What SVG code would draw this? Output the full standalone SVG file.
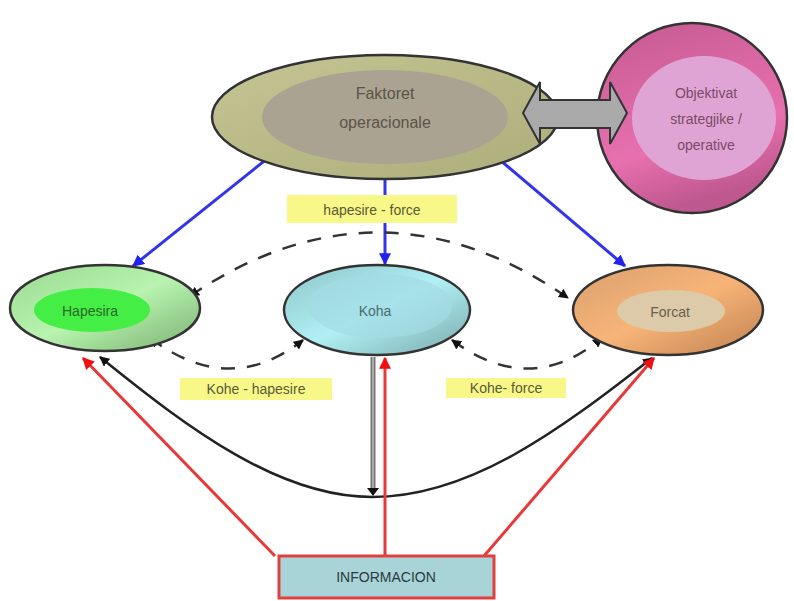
<svg xmlns="http://www.w3.org/2000/svg" width="794" height="601" viewBox="0 0 794 601">
<style>
text{font-family:"Liberation Sans",Arial,sans-serif;text-anchor:middle;dominant-baseline:central}
.node{stroke:#333;stroke-width:2.5}
.lbl{fill:#f8f888}
.lt{font-size:14px;fill:#5a5a3a}
.blue{stroke:#3333ee;stroke-width:3;fill:none;marker-end:url(#ab)}
.red{stroke:#e83838;stroke-width:3;fill:none;marker-end:url(#ar)}
.dash{stroke:#333;stroke-width:2.5;fill:none;stroke-dasharray:14 12;marker-start:url(#kS);marker-end:url(#kE)}
</style>
<defs>
<marker id="ab" viewBox="0 0 10 10" refX="9" refY="5" markerWidth="4" markerHeight="4" orient="auto"><path d="M0 0L10 5L0 10z" fill="#2222ee"/></marker>
<marker id="ar" viewBox="0 0 10 10" refX="9" refY="5" markerWidth="4" markerHeight="4" orient="auto"><path d="M0 0L10 5L0 10z" fill="#ee1111"/></marker>
<marker id="kE" viewBox="0 0 10 10" refX="9" refY="5" markerWidth="4" markerHeight="4" orient="auto"><path d="M0 0L10 5L0 10z" fill="#111"/></marker>
<marker id="kS" viewBox="0 0 10 10" refX="1" refY="5" markerWidth="4" markerHeight="4" orient="auto"><path d="M10 0L0 5L10 10z" fill="#111"/></marker>
<linearGradient id="gOl" x1="0" y1="0" x2="1" y2="1"><stop offset="0" stop-color="#c4c494"/><stop offset="1" stop-color="#aeae7c"/></linearGradient>
<linearGradient id="gPk" x1="0" y1="0" x2="0.3" y2="1"><stop offset="0" stop-color="#c45a90"/><stop offset="0.7" stop-color="#e870b0"/><stop offset="1" stop-color="#c05890"/></linearGradient>
<linearGradient id="gGr" x1="0" y1="0" x2="1" y2="1"><stop offset="0" stop-color="#9ad890"/><stop offset="0.5" stop-color="#b8f4b0"/><stop offset="1" stop-color="#7ab070"/></linearGradient>
<linearGradient id="gCy" x1="0" y1="0" x2="1" y2="1"><stop offset="0" stop-color="#8cc4c8"/><stop offset="0.5" stop-color="#b0f0f4"/><stop offset="1" stop-color="#78a8ac"/></linearGradient>
<linearGradient id="gOr" x1="0" y1="0" x2="1" y2="1"><stop offset="0" stop-color="#d8a070"/><stop offset="0.5" stop-color="#f8b478"/><stop offset="1" stop-color="#c08050"/></linearGradient>
</defs>

<g id="connectors">
<path class="blue" d="M268 158L133 266"/>
<path class="blue" d="M385 178L385 264"/>
<path class="blue" d="M500 160L625 266"/>
<path class="dash" d="M190 296Q380 168 568 298"/>
<path class="dash" d="M150 338Q230 398 303 340"/>
<path class="dash" d="M452 340Q530 398 602 338"/>
<path d="M100 357C190 430 280 497 372 497C470 497 560 430 652 358" fill="none" stroke="#222" stroke-width="2.5" marker-start="url(#kS)" marker-end="url(#kE)"/>
<path d="M373 357L373 492" stroke="#777" stroke-width="5" fill="none"/>
<path d="M373 357L373 492" stroke="#bbb" stroke-width="1.5" fill="none"/>
<path d="M367 488L373 496L379 488z" fill="#111"/>
<path class="red" d="M275 556L83 358"/>
<path class="red" d="M385 555L385 358"/>
<path class="red" d="M484 556L654 358"/>
</g>

<g id="faktoret">
<ellipse class="node" cx="385" cy="117" rx="173" ry="62" fill="url(#gOl)"/>
<ellipse cx="385" cy="117" rx="123" ry="47" fill="#aaa392"/>
<text x="385" y="93" font-size="16" fill="#5a5548">Faktoret</text>
<text x="385" y="122" font-size="16" fill="#5a5548">operacionale</text>
</g>

<g id="objektivat">
<circle class="node" cx="692" cy="118" r="95" fill="url(#gPk)"/>
<ellipse cx="704" cy="118" rx="72" ry="62" fill="#e0a4d4"/>
<text x="706" y="93" font-size="14" fill="#7a4a6a">Objektivat</text>
<text x="706" y="119" font-size="14" fill="#7a4a6a">strategjike /</text>
<text x="706" y="145" font-size="14" fill="#7a4a6a">operative</text>
</g>

<g id="label-hf">
<rect class="lbl" x="287" y="195" width="170" height="28"/>
<text class="lt" x="372" y="210">hapesire - force</text>
</g>

<g id="hapesira">
<ellipse class="node" cx="105" cy="308" rx="95" ry="43" fill="url(#gGr)"/>
<ellipse cx="92" cy="310" rx="58" ry="22" fill="#44ee44"/>
<text x="90" y="311" font-size="14" fill="#2a6a2a">Hapesira</text>
</g>

<g id="koha">
<ellipse class="node" cx="377" cy="310" rx="93" ry="45" fill="url(#gCy)"/>
<ellipse cx="380" cy="306" rx="72" ry="32" fill="#a4dce4" opacity="0.7"/>
<text x="375" y="311" font-size="14" fill="#4a6a70">Koha</text>
</g>

<g id="forcat">
<ellipse class="node" cx="668" cy="310" rx="95" ry="45" fill="url(#gOr)"/>
<ellipse cx="671" cy="311" rx="54" ry="21" fill="#dccaa8"/>
<text x="670" y="312" font-size="14" fill="#6a6050">Forcat</text>
</g>

<g id="label-kh">
<rect class="lbl" x="180" y="378" width="152" height="22"/>
<text class="lt" x="256" y="389">Kohe - hapesire</text>
</g>

<g id="label-kf">
<rect class="lbl" x="446" y="378" width="120" height="20"/>
<text class="lt" x="506" y="388">Kohe- force</text>
</g>

<g id="informacion">
<rect x="279" y="556" width="215" height="42" fill="#a8d4d8" stroke="#e04040" stroke-width="3"/>
<text x="386" y="577" font-size="14" fill="#2a3a3c">INFORMACION</text>
</g>

<g id="connector-double-arrow">
<path d="M523 113L540 82L540 100L610 100L610 82L627 113L610 144L610 128L540 128L540 144z" fill="#aaa" stroke="#333" stroke-width="2"/>
</g>
</svg>
